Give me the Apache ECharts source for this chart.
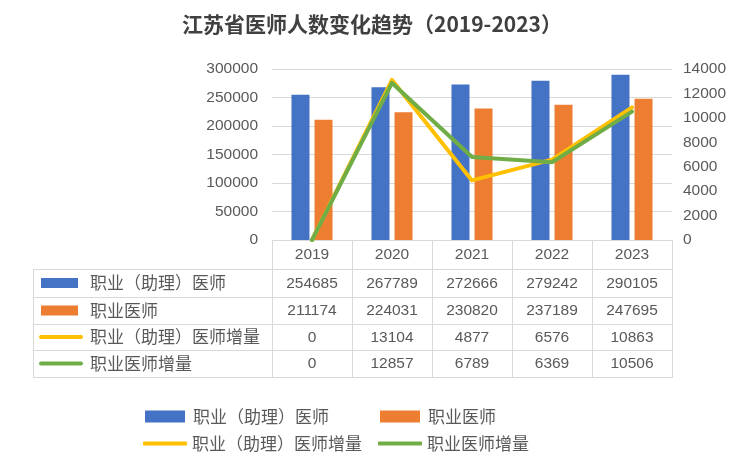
<!DOCTYPE html>
<html><head><meta charset="utf-8">
<script src="https://cdn.jsdelivr.net/npm/echarts@6/dist/echarts.min.js"></script>
<style>html,body{margin:0;padding:0;background:#fff}#c{width:744px;height:474px}</style>
</head><body><div id="c"></div>
<script>
const titleText = '江苏省医师人数变化趋势（2019-2023）';
const categories = ['2019', '2020', '2021', '2022', '2023'];
const seriesNames = ['职业（助理）医师', '职业医师', '职业（助理）医师增量', '职业医师增量'];
const assistantDoctors = [254685, 267789, 272666, 279242, 290105];
const doctors = [211174, 224031, 230820, 237189, 247695];
const assistantIncrease = [0, 13104, 4877, 6576, 10863];
const doctorIncrease = [0, 12857, 6789, 6369, 10506];
const leftAxisRange = [0, 300000, 50000];
const rightAxisRange = [0, 14000, 2000];

const seriesData = [assistantDoctors, doctors, assistantIncrease, doctorIncrease];
const colors = ['#4472C4', '#ED7D31', '#FFC000', '#70AD47'];
const CJK = '"Noto Sans CJK SC", sans-serif';
const NUM = '"Liberation Sans", Arial, sans-serif';
const grey = '#595959';
const lineGrey = '#d9d9d9';

const GRID = { left: 272, top: 69, width: 400, height: 171 };
const TABLE_LEFT = 33;
const ROWS = [269, 297, 324, 350, 377];
const colW = GRID.width / categories.length;

const graphics = [];
ROWS.forEach(y => {
  graphics.push({ type: 'line', silent: true, shape: { x1: TABLE_LEFT, y1: y + 0.5, x2: GRID.left + GRID.width, y2: y + 0.5 }, style: { stroke: lineGrey, lineWidth: 1 } });
});
const vx = [TABLE_LEFT];
for (let i = 0; i <= categories.length; i++) vx.push(GRID.left + i * colW);
vx.forEach(x => {
  graphics.push({ type: 'line', silent: true, shape: { x1: x + 0.5, y1: ROWS[0], x2: x + 0.5, y2: ROWS[ROWS.length - 1] + 1 }, style: { stroke: lineGrey, lineWidth: 1 } });
});
seriesNames.forEach((name, r) => {
  const cy = (ROWS[r] + ROWS[r + 1]) / 2;
  if (r < 2) {
    graphics.push({ type: 'rect', silent: true, shape: { x: 41, y: cy - 5, width: 37, height: 10 }, style: { fill: colors[r] } });
  } else {
    graphics.push({ type: 'line', silent: true, shape: { x1: 41, y1: cy, x2: 81, y2: cy }, style: { stroke: colors[r], lineWidth: 4, lineCap: 'round' } });
  }
  graphics.push({ type: 'text', silent: true, style: { text: name, x: 90, y: cy, textAlign: 'left', textVerticalAlign: 'middle', font: '17px ' + CJK, fill: grey } });
  seriesData[r].forEach((v, c) => {
    graphics.push({ type: 'text', silent: true, style: { text: String(v), x: GRID.left + (c + 0.5) * colW, y: cy + 0.5, textAlign: 'center', textVerticalAlign: 'middle', font: '15.5px ' + NUM, fill: grey } });
  });
});

function legendAt(name, left, top, isLine) {
  return {
    data: [name], left: left, top: top, padding: 0, selectedMode: false,
    icon: isLine ? 'roundRect' : 'rect',
    itemWidth: isLine ? 44 : 40, itemHeight: isLine ? 4 : 12,
    textStyle: { fontSize: 17, fontFamily: CJK, color: grey, padding: [0, 0, 0, isLine ? 0 : 3] }
  };
}

const plain = v => String(v);

const chart = echarts.init(document.getElementById('c'), null, { renderer: 'canvas' });
chart.setOption({
  backgroundColor: '#fff',
  animation: false,
  title: { text: titleText, left: 'center', top: 9, textStyle: { fontSize: 21, fontWeight: 'bold', fontFamily: CJK, color: '#404040' } },
  legend: [
    legendAt(seriesNames[0], 145, 408, false),
    legendAt(seriesNames[1], 380, 408, false),
    legendAt(seriesNames[2], 143, 435, true),
    legendAt(seriesNames[3], 378, 435, true)
  ],
  grid: { left: GRID.left, top: GRID.top, width: GRID.width, height: GRID.height, containLabel: false },
  xAxis: {
    type: 'category', data: categories, boundaryGap: true,
    axisLine: { show: true, lineStyle: { color: lineGrey, width: 1 } },
    axisTick: { show: true, interval: 0, length: 29, lineStyle: { color: lineGrey } },
    axisLabel: { color: grey, fontSize: 15.5, fontFamily: NUM, margin: 7, interval: 0 }
  },
  yAxis: [
    { type: 'value', min: leftAxisRange[0], max: leftAxisRange[1], interval: leftAxisRange[2],
      axisLine: { show: false }, axisTick: { show: false },
      axisLabel: { color: grey, fontSize: 15.5, fontFamily: NUM, margin: 14, formatter: plain },
      splitLine: { lineStyle: { color: lineGrey } } },
    { type: 'value', min: rightAxisRange[0], max: rightAxisRange[1], interval: rightAxisRange[2],
      axisLine: { show: false }, axisTick: { show: false },
      axisLabel: { color: grey, fontSize: 15.5, fontFamily: NUM, margin: 11, formatter: plain },
      splitLine: { show: false } }
  ],
  series: [
    { name: seriesNames[0], type: 'bar', data: assistantDoctors, barWidth: 18, barGap: '28%', itemStyle: { color: colors[0] } },
    { name: seriesNames[1], type: 'bar', data: doctors, barWidth: 18, barGap: '28%', itemStyle: { color: colors[1] } },
    { name: seriesNames[2], type: 'line', yAxisIndex: 1, data: assistantIncrease, symbol: 'none', z: 3,
      lineStyle: { color: colors[2], width: 4, cap: 'round', join: 'round' }, itemStyle: { color: colors[2] } },
    { name: seriesNames[3], type: 'line', yAxisIndex: 1, data: doctorIncrease, symbol: 'none', z: 4,
      lineStyle: { color: colors[3], width: 4, cap: 'round', join: 'round' }, itemStyle: { color: colors[3] } }
  ],
  graphic: graphics
});
</script></body></html>
